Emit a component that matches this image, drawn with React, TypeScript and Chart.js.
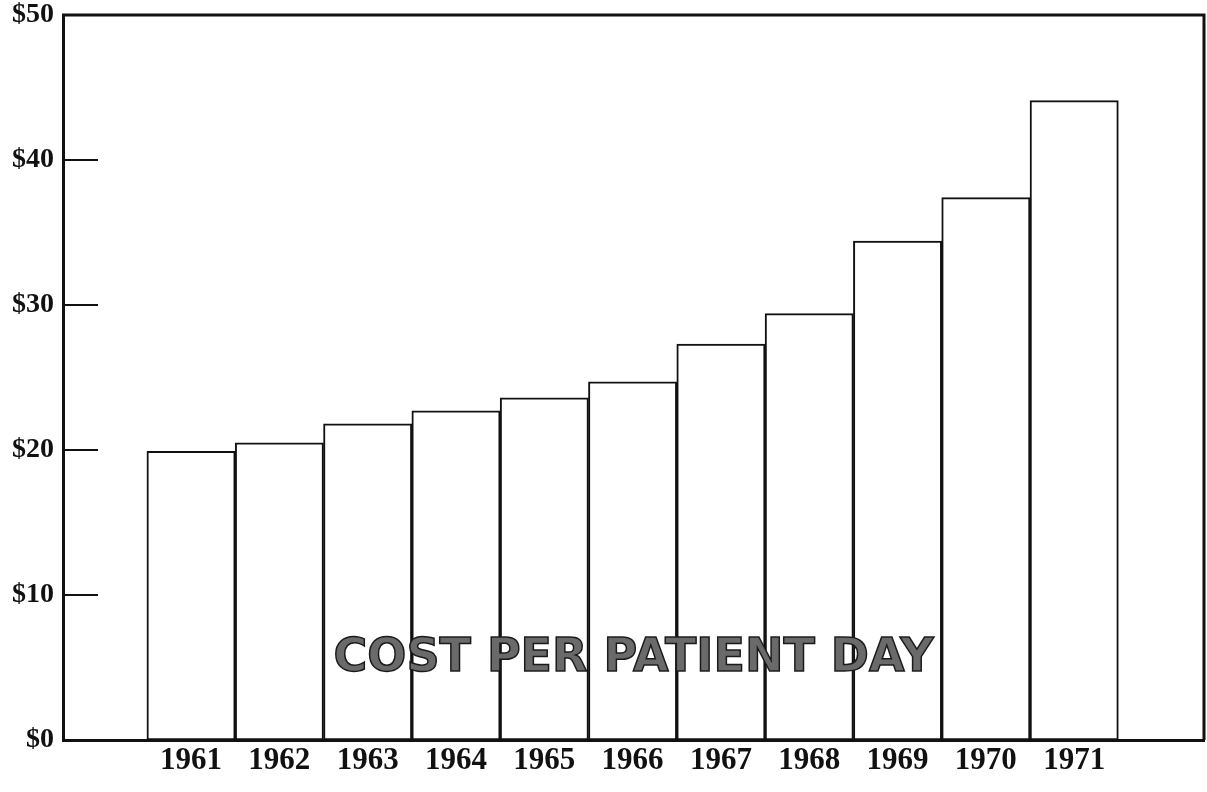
import React, { useEffect, useRef } from "react";
import { Chart, registerables } from "chart.js";

Chart.register(...registerables);

// ---- data ----
const years: number[] = [1961, 1962, 1963, 1964, 1965, 1966, 1967, 1968, 1969, 1970, 1971];
const costs: number[] = [19.9, 20.5, 21.8, 22.7, 23.6, 24.7, 27.3, 29.4, 34.4, 37.4, 44.1];
const yTicks: number[] = [0, 10, 20, 30, 40, 50];
const innerTickMarks: number[] = [10, 20, 30, 40];
const chartText = "COST PER PATIENT DAY";

const LABEL_FONT = "'Liberation Serif', 'DejaVu Serif', serif";

const framePlugin = {
  id: "frameAndText",
  afterDatasetsDraw(chart: any) {
    const { ctx, chartArea: a, scales } = chart;
    const y = scales.y;
    ctx.save();
    ctx.font = "bold 46px 'DejaVu Sans', sans-serif";
    ctx.textAlign = "center";
    ctx.textBaseline = "middle";
    const cx = (a.left + a.right) / 2;
    const cy = y.getPixelForValue(5.6);
    ctx.fillStyle = "#6a6a6a";
    ctx.fillText(chartText, cx, cy);
    ctx.lineWidth = 1.5;
    ctx.strokeStyle = "#1a1a1a";
    ctx.strokeText(chartText, cx, cy);
    ctx.restore();
  },
  afterDraw(chart: any) {
    const { ctx, chartArea: a, scales } = chart;
    const y = scales.y;
    ctx.save();
    ctx.strokeStyle = "#111";
    ctx.lineWidth = 3;
    ctx.beginPath();
    ctx.moveTo(a.left - 1, a.top);
    ctx.lineTo(a.right, a.top);
    ctx.lineTo(a.right, a.bottom);
    ctx.stroke();
    ctx.lineWidth = 2;
    ctx.beginPath();
    innerTickMarks.forEach((v) => {
      const py = y.getPixelForValue(v);
      ctx.moveTo(a.left, py);
      ctx.lineTo(a.left + 35, py);
    });
    ctx.stroke();
    ctx.restore();
  },
};

export default function App() {
  const ref = useRef<HTMLCanvasElement | null>(null);

  useEffect(() => {
    if (!ref.current) return;
    const chart = new Chart(ref.current, {
      type: "bar",
      data: {
        datasets: [
          {
            data: years.map((yr, i) => ({ x: yr, y: costs[i] })),
            backgroundColor: "#ffffff",
            borderColor: "#111111",
            borderWidth: 2,
            borderSkipped: false,
            barPercentage: 1,
            categoryPercentage: 1,
          } as any,
        ],
      },
      options: {
        responsive: false,
        animation: false,
        devicePixelRatio: 1,
        layout: { padding: { top: 15, right: 3, left: 0, bottom: 0 } },
        plugins: {
          legend: { display: false },
          tooltip: { enabled: false },
          title: { display: false },
        },
        scales: {
          x: {
            type: "linear",
            offset: false,
            min: 1959.55,
            max: 1972.47,
            grid: { display: false, drawTicks: false, offset: false },
            border: { display: true, color: "#111", width: 3 },
            afterBuildTicks: (scale: any) => {
              scale.ticks = years.map((v) => ({ value: v }));
            },
            afterFit: (scale: any) => {
              scale.height = 52;
              scale.paddingLeft = 0;
              scale.paddingRight = 0;
            },
            ticks: {
              autoSkip: false,
              maxRotation: 0,
              padding: 2,
              color: "#111",
              font: { family: LABEL_FONT, size: 31, weight: "bold" },
              callback: (v: any) => String(v),
            },
          },
          y: {
            type: "linear",
            min: 0,
            max: 50,
            grid: { display: false, drawTicks: false },
            border: { display: true, color: "#111", width: 3 },
            afterBuildTicks: (scale: any) => {
              scale.ticks = yTicks.map((v) => ({ value: v }));
            },
            afterFit: (scale: any) => {
              scale.width = 63;
              scale.paddingTop = 0;
              scale.paddingBottom = 0;
            },
            ticks: {
              padding: 9,
              color: "#111",
              font: { family: LABEL_FONT, size: 28, weight: "bold" },
              callback: (v: any) => "$" + v,
            },
          },
        },
      },
      plugins: [framePlugin],
    });
    return () => chart.destroy();
  }, []);

  return (
    <div style={{ position: "absolute", left: 0, top: 0, width: 1207, height: 792, background: "#fff" }}>
      <canvas ref={ref} width={1207} height={792} style={{ display: "block" }} />
    </div>
  );
}
